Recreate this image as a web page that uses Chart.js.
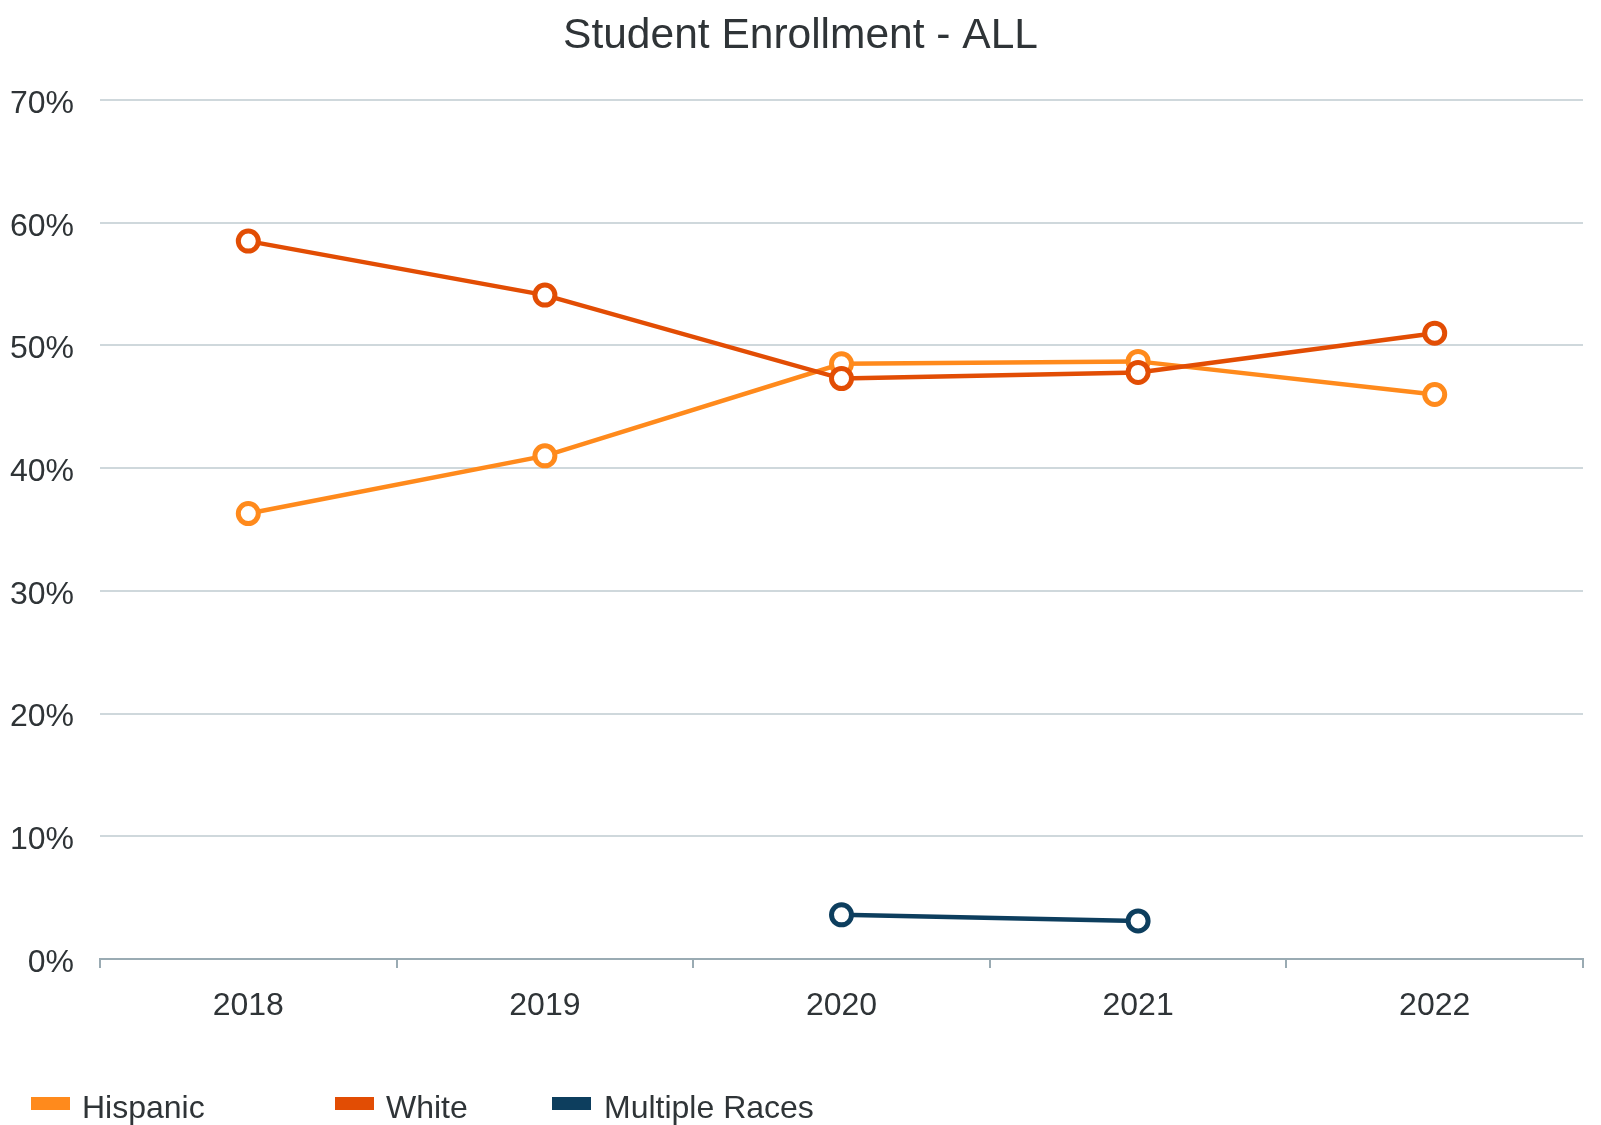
<!DOCTYPE html>
<html>
<head>
<meta charset="utf-8">
<script src="https://cdn.jsdelivr.net/npm/chart.js@4/dist/chart.umd.min.js"></script>
<style>
  html, body { margin: 0; padding: 0; background: #fff; }
  #wrap { position: relative; width: 1601px; height: 1125px; overflow: hidden; font-family: "Liberation Sans", Arial, sans-serif; }
  #c { position: absolute; left: 0; top: 0; }
  .lg-box { position: absolute; width: 39px; height: 13px; }
  .lg-txt { position: absolute; font-size: 32px; line-height: 32px; color: #2f3437; white-space: nowrap; }
</style>
</head>
<body>
<div id="wrap">
  <canvas id="c" width="1601" height="1125"></canvas>
</div>
<script>
const years = ["2018", "2019", "2020", "2021", "2022"];
const hispanic = [36.3, 41.0, 48.5, 48.7, 46.0];
const white = [58.5, 54.1, 47.3, 47.8, 51.0];
const multipleRaces = [null, null, 3.6, 3.1, null];
const seriesNames = ["Hispanic", "White", "Multiple Races"];
const seriesColors = ["#ff8a1c", "#e24d04", "#0d3e5e"];
const yTicks = [0, 10, 20, 30, 40, 50, 60, 70];

const FONT = '"Liberation Sans", Arial, sans-serif';
const TXT = '#2f3437';

function ds(label, data, color, order) {
  return {
    label, data, order,
    yAxisID: 'y',
    borderColor: color,
    backgroundColor: '#ffffff',
    pointBackgroundColor: '#ffffff',
    pointBorderColor: color,
    borderWidth: 4.5,
    pointRadius: 10,
    pointBorderWidth: 5,
    pointHoverRadius: 10,
    tension: 0,
    spanGaps: false
  };
}

new Chart(document.getElementById('c'), {
  type: 'line',
  data: {
    labels: years,
    datasets: [
      ds(seriesNames[0], hispanic, seriesColors[0], 1),
      ds(seriesNames[1], white, seriesColors[1], 0),
      ds(seriesNames[2], multipleRaces, seriesColors[2], 2)
    ]
  },
  options: {
    responsive: false,
    animation: false,
    layout: { padding: { left: 0, right: 0, top: 0, bottom: 86 } },
    plugins: {
      legend: { display: false },
      tooltip: { enabled: false },
      title: {
        display: true,
        text: 'Student Enrollment - ALL',
        color: TXT,
        font: { family: FONT, size: 42.5, weight: 'normal' },
        padding: { top: 11, bottom: 38 }
      }
    },
    scales: {
      x: {
        offset: true,
        grid: { offset: true, drawOnChartArea: false, drawTicks: true, tickLength: 9, color: '#9aabb3', lineWidth: 2 },
        border: { display: true, color: '#9aabb3', width: 2 },
        ticks: { color: TXT, font: { family: FONT, size: 32 }, padding: 19, maxRotation: 0 },
        afterFit: s => { s.height = 80; }
      },
      y: {
        position: 'left',
        min: 0, max: 70,
        afterBuildTicks: s => { s.ticks = yTicks.map(v => ({ value: v })); },
        grid: { color: '#cfd8dc', lineWidth: 2, drawTicks: false },
        border: { display: false },
        ticks: { color: TXT, font: { family: FONT, size: 32 }, padding: 26, labelOffset: 4, callback: v => v + '%' },
        afterFit: s => { s.width = 100; }
      },
      spacer: {
        type: 'linear',
        position: 'right',
        display: true,
        min: 0, max: 70,
        grid: { display: false, drawTicks: false },
        border: { display: false },
        ticks: { display: false },
        afterFit: s => { s.width = 18; }
      }
    }
  }
});

// Legend (HTML, real text)
const legendPos = [[31, 82], [335, 386], [552, 604]];
const wrap = document.getElementById('wrap');
seriesNames.forEach((name, i) => {
  const b = document.createElement('div');
  b.className = 'lg-box';
  b.style.left = legendPos[i][0] + 'px';
  b.style.top = '1097px';
  b.style.background = seriesColors[i];
  wrap.appendChild(b);
  const t = document.createElement('div');
  t.className = 'lg-txt';
  t.style.left = legendPos[i][1] + 'px';
  t.style.top = '1091px';
  t.textContent = name;
  wrap.appendChild(t);
});
</script>
</body>
</html>
